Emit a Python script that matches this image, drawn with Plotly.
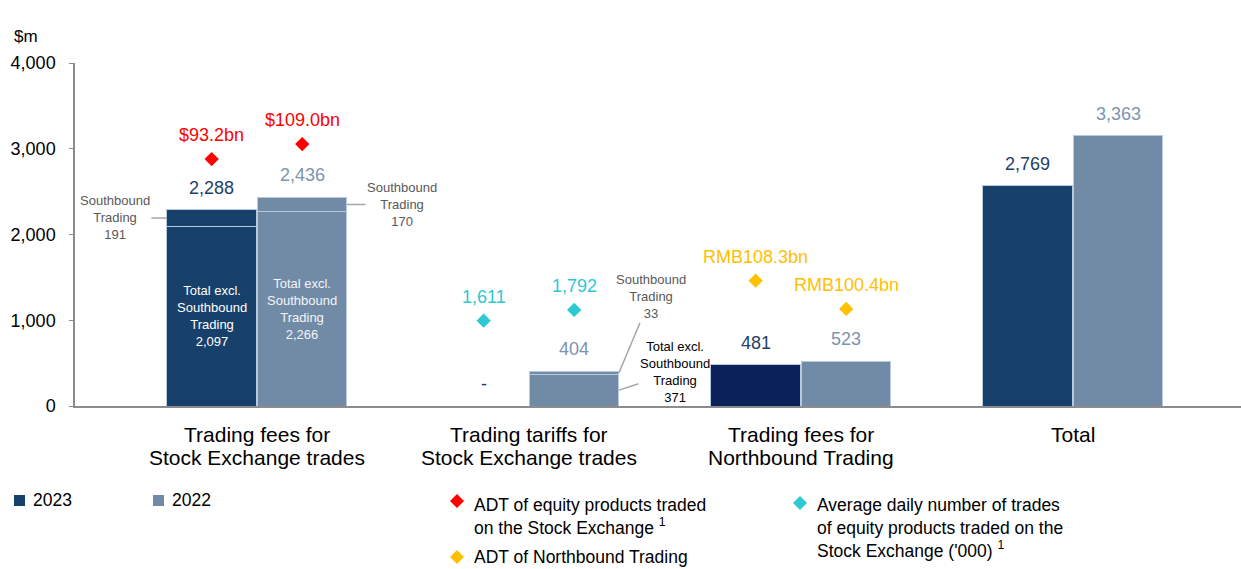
"""
HKEX trading fees chart, 2023 vs 2022.
"""
import plotly.graph_objects as go

# ---- data -------------------------------------------------------------
categories = [
    'Trading fees for<br>Stock Exchange trades',
    'Trading tariffs for<br>Stock Exchange trades',
    'Trading fees for<br>Northbound Trading',
    'Total',
]
excl_2023 = [2097, 0, 481, 2570]       # total excl. Southbound (bar height as drawn)
sb_2023 = [191, 0, 0, 0]               # Southbound Trading
excl_2022 = [2266, 371, 523, 3150]
sb_2022 = [170, 33, 0, 0]
labels_2023 = ['2,288', '-', '481', '2,769']
labels_2022 = ['2,436', '404', '523', '3,363']

adt_sx_text = ['$93.2bn', '$109.0bn']          # ADT equity products, Stock Exchange
adt_sx_pos = [2880, 3055]
trades_text = ['1,611', '1,792']               # avg daily number of trades ('000)
trades_pos = [995, 1120]
adt_nb_text = ['RMB108.3bn', 'RMB100.4bn']     # ADT Northbound Trading
adt_nb_pos = [1462, 1132]

y_ticks = [0, 1000, 2000, 3000, 4000]

# ---- style ------------------------------------------------------------
FONT = 'Liberation Sans, Arial, sans-serif'
C23 = '#17416B'
C23_NB = '#0B2159'
C22 = '#718BA6'
C23_TXT = '#1F4068'
C22_TXT = '#7C94AF'
RED = '#FF0000'
TEAL = '#2CC9D3'
YELLOW = '#FFC000'
GREY_TXT = '#595959'
EDGE = '#B9C9DD'

OFF = 0.1665   # half distance between paired bars
W = 0.329      # bar width

# plot area in pixels (for legend placement)
PX_L, PX_R, PX_T, PX_B = 75, 1241, 63, 406


def px(x):
    return (x - PX_L) / (PX_R - PX_L)


def py(y):
    return (PX_B - y) / (PX_B - PX_T)


idx = list(range(len(categories)))
x23 = [i - OFF for i in idx]
x22 = [i + OFF for i in idx]
top23 = [a + b for a, b in zip(excl_2023, sb_2023)]
top22 = [a + b for a, b in zip(excl_2022, sb_2022)]

fig = go.Figure()

fig.add_trace(go.Bar(
    x=x23, y=excl_2023, width=W, name='2023',
    marker=dict(color=[C23, C23, C23_NB, C23], line=dict(color=EDGE, width=1)),
))
fig.add_trace(go.Bar(
    x=x23, y=sb_2023, width=W, name='2023 Southbound',
    marker=dict(color=C23, line=dict(color=EDGE, width=1)),
))
fig.add_trace(go.Bar(
    x=x22, y=excl_2022, width=W, name='2022',
    marker=dict(color=C22, line=dict(color=EDGE, width=1)),
))
fig.add_trace(go.Bar(
    x=x22, y=sb_2022, width=W, name='2022 Southbound',
    marker=dict(color=C22, line=dict(color=EDGE, width=1)),
))

# diamonds
for xs, ys, col in [
    (x23[0:1] + x22[0:1], adt_sx_pos, RED),
    (x23[1:2] + x22[1:2], trades_pos, TEAL),
    (x23[2:3] + x22[2:3], adt_nb_pos, YELLOW),
]:
    fig.add_trace(go.Scatter(
        x=xs, y=ys, mode='markers',
        marker=dict(symbol='diamond', size=11, color=col, line=dict(width=0)),
        hoverinfo='skip',
    ))

annotations = []

# value labels above bars
for i in idx:
    annotations.append(dict(x=x23[i], y=top23[i], text=labels_2023[i], showarrow=False,
                            yshift=22, font=dict(size=18, color=C23_TXT)))
    annotations.append(dict(x=x22[i], y=top22[i], text=labels_2022[i], showarrow=False,
                            yshift=22, font=dict(size=18, color=C22_TXT)))

# labels inside the Stock Exchange trading fee bars
annotations.append(dict(x=x23[0], y=excl_2023[0] / 2, showarrow=False,
                        text='Total excl.<br>Southbound<br>Trading<br>2,097',
                        font=dict(size=13, color='white')))
annotations.append(dict(x=x22[0], y=excl_2022[0] / 2, showarrow=False,
                        text='Total excl.<br>Southbound<br>Trading<br>2,266',
                        font=dict(size=13, color='#F2F5F9')))

# labels above diamonds
for xs, ys, txt, col in [
    (x23[0:1] + x22[0:1], adt_sx_pos, adt_sx_text, RED),
    (x23[1:2] + x22[1:2], trades_pos, trades_text, TEAL),
    (x23[2:3] + x22[2:3], adt_nb_pos, adt_nb_text, YELLOW),
]:
    for xv, yv, t in zip(xs, ys, txt):
        annotations.append(dict(x=xv, y=yv, text=t, showarrow=False, yshift=24,
                                font=dict(size=18, color=col)))

# category labels, one line at a time for tighter spacing
for i, cat in enumerate(categories):
    for k, line in enumerate(cat.split('<br>')):
        annotations.append(dict(x=i, y=0, text=line, showarrow=False, yanchor='top',
                                yshift=-15 - 23 * k, font=dict(size=21, color='black')))

# Southbound call-outs
callout = dict(showarrow=True, arrowhead=0, arrowwidth=1.5, arrowcolor='#A6A6A6',
               standoff=0, font=dict(size=13, color=GREY_TXT))
annotations.append(dict(callout, x=x23[0] - W / 2, y=excl_2023[0] + sb_2023[0] / 2,
                        text='Southbound<br>Trading<br>%d' % sb_2023[0], ax=-52, ay=0))
annotations.append(dict(callout, x=x22[0] + W / 2, y=excl_2022[0] + sb_2022[0] / 2,
                        text='Southbound<br>Trading<br>%d' % sb_2022[0], ax=55, ay=0))
annotations.append(dict(callout, x=x22[1] + W / 2, y=excl_2022[1] + sb_2022[1] / 2,
                        text='Southbound<br>Trading<br>%d' % sb_2022[1], ax=32, ay=-76))
annotations.append(dict(callout, x=x22[1] + W / 2, y=excl_2022[1] / 2,
                        text='Total excl.<br>Southbound<br>Trading<br>%d' % excl_2022[1],
                        ax=56, ay=-18, font=dict(size=13, color='black')))

# unit label
annotations.append(dict(xref='paper', yref='paper', x=px(12), y=py(25), xanchor='left',
                        text='$m', showarrow=False, font=dict(size=17, color='black')))

# legend (drawn by hand to follow the source layout)
legend_items = [
    (px(31), 500, '2023'),
    (px(170), 500, '2022'),
    (px(472), 493, 'ADT of equity products traded<br>on the Stock Exchange <sup>1</sup>'),
    (px(472), 557, 'ADT of Northbound Trading'),
    (px(815), 493, "Average daily number of trades<br>of equity products traded on the<br>"
                   "Stock Exchange ('000) <sup>1</sup>"),
]
for xv, yv, t in legend_items:
    one_line = '<br>' not in t
    annotations.append(dict(xref='paper', yref='paper', x=xv, y=py(yv), xanchor='left',
                            yanchor='middle' if one_line else 'top', align='left',
                            text=t, showarrow=False, font=dict(size=17.5, color='black')))

shapes = []
for x0, col in [(14, C23), (153, C22)]:
    shapes.append(dict(type='rect', xref='paper', yref='paper', x0=px(x0), x1=px(x0 + 11),
                       y0=py(506), y1=py(495), fillcolor=col, line=dict(width=0)))
for cx, cy, col in [(457, 501, RED), (457, 557, YELLOW), (800, 503, TEAL)]:
    r = 7
    path = 'M %f,%f L %f,%f L %f,%f L %f,%f Z' % (
        px(cx), py(cy - r), px(cx + r), py(cy), px(cx), py(cy + r), px(cx - r), py(cy))
    shapes.append(dict(type='path', xref='paper', yref='paper', path=path,
                       fillcolor=col, line=dict(width=0)))

fig.update_layout(
    width=1241, height=569,
    margin=dict(l=PX_L, r=1241 - PX_R, t=PX_T, b=569 - PX_B),
    barmode='stack',
    showlegend=False,
    plot_bgcolor='white', paper_bgcolor='white',
    font=dict(family=FONT, color='black'),
    xaxis=dict(range=[-0.669, 3.618], showticklabels=False, showgrid=False, zeroline=False,
               showline=True, linecolor='#8C8C8C', linewidth=2, ticks=''),
    yaxis=dict(range=[0, 4000], tickvals=y_ticks, tickformat=',', ticks='outside', ticklen=4,
               tickcolor='#8C8C8C', showline=True, linecolor='#8C8C8C', linewidth=1.5,
               showgrid=False, zeroline=False, tickfont=dict(size=18, color='black'),
               ticklabelstandoff=10),
    annotations=annotations,
    shapes=shapes,
)

fig.write_html('out.html', config={'displayModeBar': False},
               post_script="document.body.style.margin='0px';")
